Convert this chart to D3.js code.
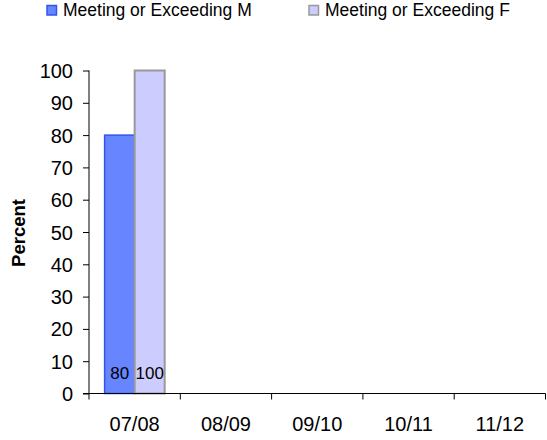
<!DOCTYPE html>
<html><head><meta charset="utf-8">
<script src="https://cdn.jsdelivr.net/npm/d3@7"></script>
<style>body{margin:0;background:#fff}svg{display:block;font-family:Arial,"Liberation Sans",sans-serif}</style>
</head><body><svg id="c" width="547" height="440"></svg>
<script>
const categories = ["07/08","08/09","09/10","10/11","11/12"];
const seriesNames = ["Meeting or Exceeding M","Meeting or Exceeding F"];
const seriesM = [80, null, null, null, null];
const seriesF = [100, null, null, null, null];
const yTicks = [0,10,20,30,40,50,60,70,80,90,100];
const colors = [{fill:"#6685FF",stroke:"#3355EE"},{fill:"#CCCCFF",stroke:"#999999"}];
const FONT = "Arial, 'Liberation Sans', sans-serif";

const svg = d3.select("#c");
const m = {left:89, right:545.5, top:70.5, bottom:393.5};
const x = d3.scaleBand().domain(categories).range([m.left, m.right]).paddingInner(0).paddingOuter(0);
const y = d3.scaleLinear().domain([0,100]).range([m.bottom, m.top]);
const inner = d3.scaleBand().domain([0,1]).range([0, x.bandwidth()]).paddingOuter(0.52).paddingInner(0);

const series = [seriesM, seriesF];
series.forEach((vals, si) => {
  const g = svg.append("g");
  categories.forEach((c, i) => {
    const v = vals[i];
    if (v == null) return;
    g.append("rect")
      .attr("x", x(c) + inner(si))
      .attr("y", y(v))
      .attr("width", inner.bandwidth())
      .attr("height", y(0) - y(v))
      .attr("fill", colors[si].fill)
      .attr("stroke", colors[si].stroke)
      .attr("stroke-width", si === 1 ? 2 : 1.5);
    g.append("text")
      .attr("x", x(c) + inner(si) + inner.bandwidth()/2)
      .attr("y", y(0) - 15)
      .attr("text-anchor", "middle")
      .attr("font-size", 17)
      .attr("fill", "#000")
      .text(v);
  });
});

// axes
const yAxis = d3.axisLeft(y).tickValues(yTicks).tickSize(6).tickPadding(10);
const gy = svg.append("g").attr("transform", `translate(${m.left},0)`).call(yAxis);
gy.attr("font-family", FONT);
gy.select(".domain").attr("stroke","#000").attr("d", `M0,${m.top}V${m.bottom}`);
gy.selectAll(".tick line").attr("stroke","#000");
gy.selectAll(".tick text").attr("font-size",20).attr("fill","#000").attr("dy","0.35em");

const gx = svg.append("g").attr("transform", `translate(0,${m.bottom})`);
gx.append("line").attr("x1", m.left-6).attr("x2", m.right).attr("y1",0).attr("y2",0).attr("stroke","#000");
const bounds = categories.map(c => x(c)).concat([m.right]);
gx.selectAll("line.t").data(bounds).join("line").attr("class","t")
  .attr("x1", d=>d).attr("x2", d=>d).attr("y1",0).attr("y2",6).attr("stroke","#000");
gx.selectAll("text").data(categories).join("text")
  .attr("x", d => x(d) + x.bandwidth()/2).attr("y", 37)
  .attr("text-anchor","middle").attr("font-size",20).attr("fill","#000").text(d=>d);

// y label
svg.append("text").attr("transform","translate(25,233) rotate(-90)")
  .attr("text-anchor","middle").attr("font-size",18.5).attr("font-weight","bold").text("Percent");

// legend
const legX = [47, 309];
seriesNames.forEach((n, i) => {
  svg.append("rect").attr("x", legX[i]).attr("y", 5.5).attr("width", 9.5).attr("height", 9.5)
    .attr("fill", colors[i].fill).attr("stroke", colors[i].stroke).attr("stroke-width", 1.5);
  svg.append("text").attr("x", legX[i]+16).attr("y", 16).attr("font-size", 17.5).attr("fill","#000").text(n);
});
</script></body></html>
